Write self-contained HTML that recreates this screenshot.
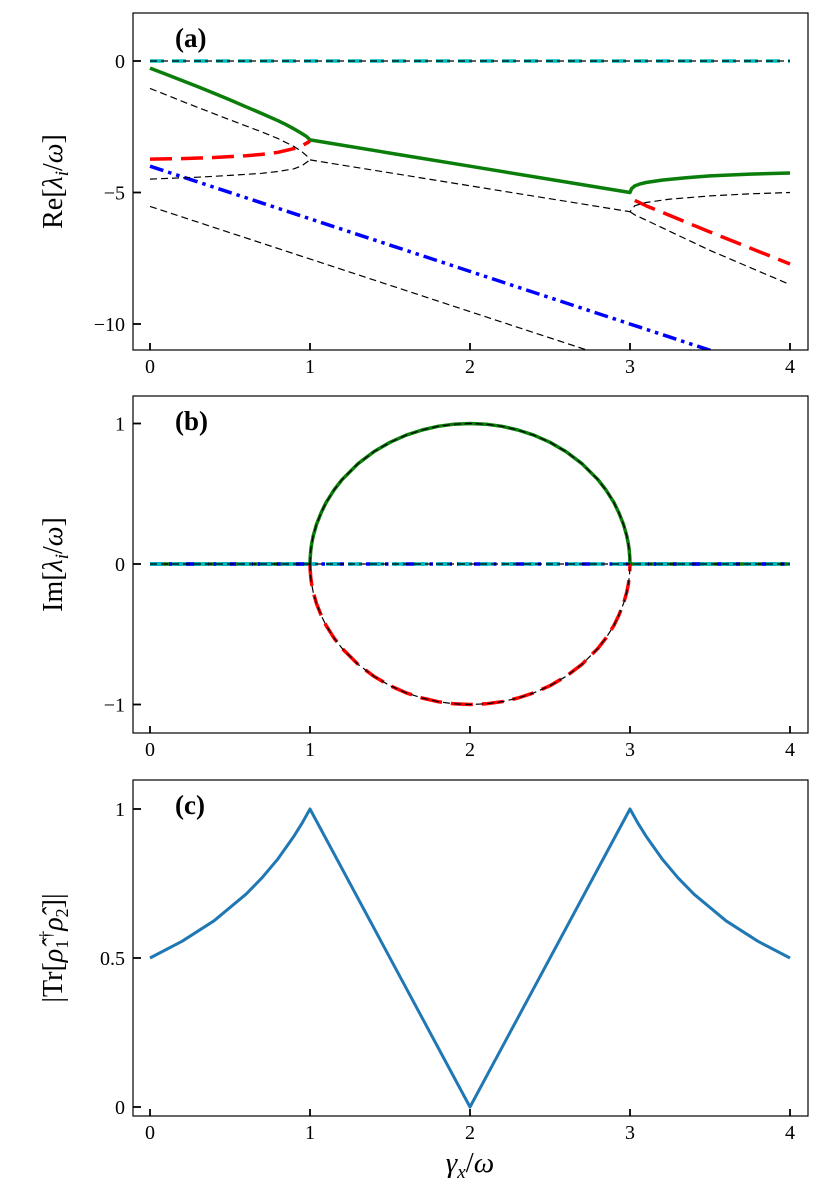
<!DOCTYPE html>
<html><head><meta charset="utf-8"><style>
html,body{margin:0;padding:0;background:#fff;}
svg{display:block;font-family:"Liberation Serif",serif;}
</style></head><body>
<svg id="fig" width="822" height="1199" viewBox="0 0 822 1199" xmlns="http://www.w3.org/2000/svg"></svg>
<script>
// ---- data ----
const xTicks=[0,1,2,3,4];
const aTicks=[0,-5,-10];
const bTicks=[1,0,-1];
const cTicks=[1,0.5,0];
const cTickLabels=['1','0.5','0'];
// panel a series (gamma, value)
const aGreenX=[0,0.1,0.2,0.3,0.4,0.5,0.6,0.7,0.8,0.85,0.9,0.95,0.98,1,1.5,2,2.5,3,3.01,3.03,3.06,3.1,3.2,3.35,3.5,3.75,4];
const aGreenY=[-0.27,-0.5,-0.74,-0.98,-1.23,-1.48,-1.74,-2.0,-2.27,-2.42,-2.58,-2.76,-2.88,-3.0,-3.5,-4.0,-4.5,-5.0,-4.85,-4.75,-4.68,-4.62,-4.53,-4.44,-4.37,-4.3,-4.26];
const aRedX=[0,0.2,0.4,0.6,0.7,0.8,0.9,0.95,0.98,1,3.03,3.1,3.5,4];
const aRedY=[-3.73,-3.71,-3.67,-3.6,-3.55,-3.47,-3.33,-3.22,-3.12,-3.04,-5.3,-5.5,-6.5,-7.72];
const aRedBreak=10; // second branch starts at index
const aBlueX=[0,4];
const aBlueY=[-4,-12];
const aCyanX=[0,4];
const aCyanY=[0,0];
const aBlk0X=[0,4], aBlk0Y=[0,0];
const aBlk1X=[0,0.25,0.5,0.7,0.8,0.9,0.95,1];
const aBlk1Y=[-1.04,-1.65,-2.24,-2.7,-2.95,-3.25,-3.45,-3.72];
const aBlk2X=[0,0.3,0.5,0.7,0.8,0.9,0.95,1];
const aBlk2Y=[-4.49,-4.42,-4.35,-4.27,-4.2,-4.1,-3.98,-3.76];
const aBlk3X=[1,3,3.03,3.1,3.25,3.5,3.75,4];
const aBlk3Y=[-3.76,-5.73,-5.5,-5.38,-5.25,-5.13,-5.05,-5.0];
const aBlk4X=[3,3.03,3.1,3.5,4];
const aBlk4Y=[-5.73,-5.85,-6.05,-7.2,-8.5];
const aBlk5X=[0,4];
const aBlk5Y=[-5.53,-13.53];
// panel b
const bArcX=[1,1.001,1.005,1.01,1.02,1.04,1.07,1.1,1.15,1.2,1.3,1.4,1.5,1.6,1.7,1.8,1.9,2,2.1,2.2,2.3,2.4,2.5,2.6,2.7,2.8,2.85,2.9,2.93,2.96,2.98,2.99,2.995,2.999,3];
const bArcY=[0,0.045,0.1,0.141,0.199,0.28,0.366,0.436,0.527,0.6,0.714,0.8,0.866,0.917,0.954,0.98,0.995,1,0.995,0.98,0.954,0.917,0.866,0.8,0.714,0.6,0.527,0.436,0.366,0.28,0.199,0.141,0.1,0.045,0];
// panel c
const cX=[0,0.2,0.4,0.6,0.7,0.8,0.9,0.95,1,2,3,3.05,3.1,3.2,3.3,3.4,3.6,3.8,4];
const cY=[0.5,0.556,0.625,0.714,0.769,0.833,0.909,0.952,1,0,1,0.952,0.909,0.833,0.769,0.714,0.625,0.556,0.5];

const NS='http://www.w3.org/2000/svg';
const svg=document.getElementById('fig');
function mk(tag,attrs,parent){const e=document.createElementNS(NS,tag);for(const k in attrs)e.setAttribute(k,attrs[k]);(parent||svg).appendChild(e);return e;}
const L=133,R=808;
const sx=g=>150+160*g;
const panels={
 a:{top:13,bot:350,y:v=>61+(-v)*26.3},
 b:{top:396,bot:733,y:v=>564-v*140.5},
 c:{top:780,bot:1116,y:v=>1107-v*298}
};
function path(xs,ys,ysc,style,name,g,from,to){
 from=from||0;to=to===undefined?xs.length:to;
 let d='';for(let i=from;i<to;i++){d+=(i==from?'M':'L')+sx(xs[i]).toFixed(1)+','+ysc(ys[i]).toFixed(1);}
 const p=mk('path',Object.assign({d:d,fill:'none','stroke-linejoin':'round'},style),g);
 
 
 return p;
}
const blk={stroke:'#000','stroke-width':1.2,'stroke-dasharray':'7,4'};
const green={stroke:'#0a7d0a','stroke-width':3.5};
const red={stroke:'#ff0000','stroke-width':3.5,'stroke-dasharray':'22,9'};
const blue={stroke:'#0000ff','stroke-width':3.5,'stroke-dasharray':'14,5,3.5,5,3.5,5'};
const cyan={stroke:'#00bfbf','stroke-width':3.5,'stroke-dasharray':'14,8'};
const c1={stroke:'#1f77b4','stroke-width':3};

function axes(key,ticks,labels,label,tag){
 const P=panels[key];
 const g=mk('g',{});
 
 
 const cp=mk('clipPath',{id:'clip'+key},g);
 mk('rect',{x:L,y:P.top,width:R-L,height:P.bot-P.top},cp);
 const plot=mk('g',{'clip-path':'url(#clip'+key+')'},g);
 xTicks.forEach(t=>{
  const tk=mk('line',{x1:sx(t),x2:sx(t),y1:P.bot,y2:P.bot-7,stroke:'#000','stroke-width':1.8},g);
  
  
  const tx=mk('text',{x:sx(t),y:P.bot+23,'font-size':20,'text-anchor':'middle'},g);
  
  
  tx.textContent=t;
 });
 ticks.forEach((t,i)=>{
  const y=P.y(t);
  const tk=mk('line',{x1:L,x2:L+8,y1:y,y2:y,stroke:'#000','stroke-width':1.8},g);
  
  
  const tx=mk('text',{x:L-8,y:y+7,'font-size':20,'text-anchor':'end'},g);
  
  
  tx.textContent=labels[i];
 });
 const fr=mk('rect',{x:L,y:P.top,width:R-L,height:P.bot-P.top,fill:'none',stroke:'#000','stroke-width':1.2},g);
 
 
 const t=mk('text',{x:175,y:P.top+34,'font-size':27,'font-weight':'bold'},g);
 
 
 t.textContent=tag;
 const yl=mk('text',{x:0,y:0,'font-size':28,'text-anchor':'middle',transform:'translate(62,'+((P.top+P.bot)/2)+') rotate(-90)'},g);
 
 
 yl.innerHTML=label;
 return plot;
}
const neg=v=>v<0?'\u2212'+(-v):String(v);
// panel a
let pa=axes('a',aTicks,aTicks.map(neg),'Re[<tspan font-style="italic">λ</tspan><tspan font-style="italic" font-size="19" dy="6">i</tspan><tspan dy="-6">/</tspan><tspan font-style="italic">ω</tspan>]','(a)');
let y=panels.a.y;
path(aCyanX,aCyanY,y,cyan,'cyan-series',pa);
path(aBlk0X,aBlk0Y,y,blk,'exact-zero',pa);
path(aGreenX,aGreenY,y,green,'green-series',pa);
path(aRedX,aRedY,y,red,'red-series-branch1',pa,0,aRedBreak);
path(aRedX,aRedY,y,red,'red-series-branch2',pa,aRedBreak);
path(aBlueX,aBlueY,y,blue,'blue-series',pa);
path(aBlk1X,aBlk1Y,y,blk,'exact-1',pa);
path(aBlk2X,aBlk2Y,y,blk,'exact-2',pa);
path(aBlk3X,aBlk3Y,y,blk,'exact-3',pa);
path(aBlk4X,aBlk4Y,y,blk,'exact-4',pa);
path(aBlk5X,aBlk5Y,y,blk,'exact-5',pa);
// panel b
let pb=axes('b',bTicks,bTicks.map(neg),'Im[<tspan font-style="italic">λ</tspan><tspan font-style="italic" font-size="19" dy="6">i</tspan><tspan dy="-6">/</tspan><tspan font-style="italic">ω</tspan>]','(b)');
y=panels.b.y;
const bNeg=bArcY.map(v=>-v);
path([0,1],[0,0],y,green,'green-zero-left',pb);
path([3,4],[0,0],y,green,'green-zero-right',pb);
path([0,4],[0,0],y,blue,'blue-zero',pb);
path([0,4],[0,0],y,cyan,'cyan-zero',pb);
path(bArcX,bArcY,y,green,'green-arc',pb);
path(bArcX,bNeg,y,red,'red-arc',pb);
path(bArcX,bArcY,y,blk,'exact-arc-up',pb);
path(bArcX,bNeg,y,blk,'exact-arc-down',pb);
path([0,4],[0,0],y,blk,'exact-zero-b',pb);
// panel c
let pc=axes('c',cTicks,cTickLabels,'|Tr[<tspan font-style="italic">ρ̂</tspan><tspan font-size="18" dy="6">1</tspan><tspan font-size="18" dy="-16">†</tspan><tspan dy="10" font-style="italic">ρ̂</tspan><tspan font-size="18" dy="6">2</tspan><tspan dy="-6">]|</tspan>','(c)');
path(cX,cY,panels.c.y,c1,'overlap-curve',pc);
const xl=mk('text',{x:470,y:1172,'font-size':29,'text-anchor':'middle'});


xl.innerHTML='<tspan font-style="italic">γ</tspan><tspan font-style="italic" font-size="19" dy="6">x</tspan><tspan dy="-6">/</tspan><tspan font-style="italic">ω</tspan>';
</script>
</body></html>
